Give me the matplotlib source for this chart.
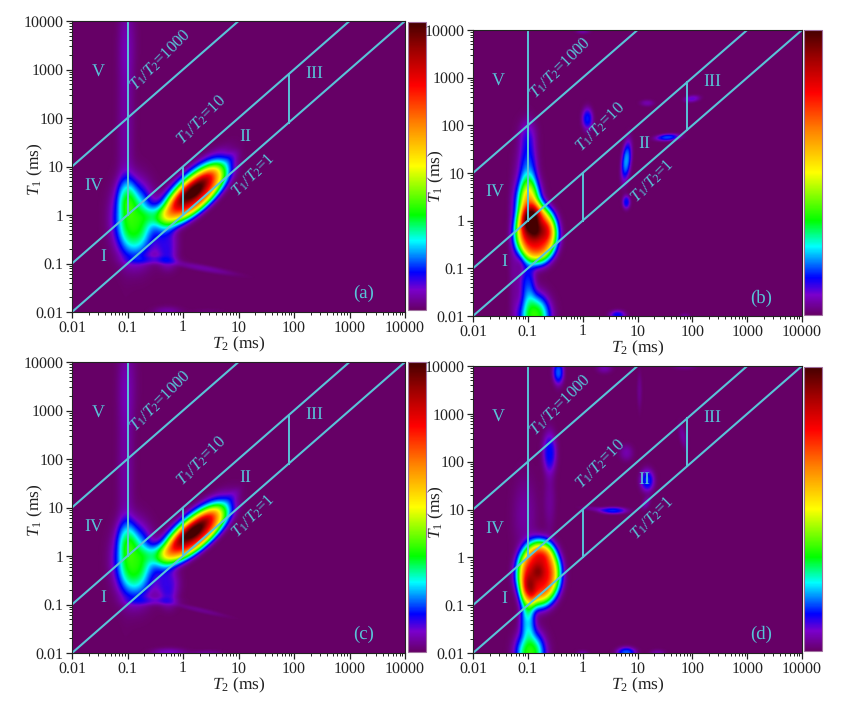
import numpy as np
import matplotlib
matplotlib.use('Agg')
import matplotlib.pyplot as plt
from matplotlib.colors import LinearSegmentedColormap, Normalize
from matplotlib.cm import ScalarMappable
from matplotlib.ticker import FixedLocator, FixedFormatter, LogLocator, NullFormatter

plt.rcParams['font.family'] = ['Liberation Serif', 'DejaVu Serif']
plt.rcParams['mathtext.fontset'] = 'custom'
plt.rcParams['mathtext.rm'] = 'Liberation Serif'
plt.rcParams['mathtext.it'] = 'Liberation Serif:italic'
plt.rcParams['text.hinting'] = 'no_hinting'

tick_values = [0.01, 0.1, 1, 10, 100, 1000, 10000]
tick_labels = ['0.01', '0.1', '1', '10', '100', '1000', '10000']

# Each peak: log10 T2, log10 T1, amplitude, long sigma, short sigma, long-axis angle (deg), sharpness
peaks_a = [
    (0.22, 0.42, 0.76, 0.54, 0.20, 47, 1.7),
    (0.12, 0.62, 0.28, 0.56, 0.17, 47, 1.5),
    (0.24, 0.46, 0.10, 0.16, 0.07, 47, 1.0),
    (-0.88, -0.12, 0.35, 0.52, 0.24, 92, 1.25),
    (-1.02, 0.45, 0.09, 0.26, 0.12, 90, 1.25),
    (-1.03, 1.9, 0.04, 1.6, 0.11, 90, 1.25),
    (-1.0, 3.6, 0.03, 0.6, 0.12, 90, 1.25),
    (-0.45, 0.0, 0.10, 0.18, 0.14, 0, 1.25),
    (-0.30, -0.55, 0.10, 0.30, 0.14, 90, 1.25),
    (-0.55, -0.92, 0.05, 0.30, 0.06, 0, 1.25),
    (-0.25, -0.92, 0.035, 0.16, 0.12, 90, 1.25),
    (0.35, -1.08, 0.045, 0.42, 0.05, -12, 1.25),
    (-0.28, -2.0, 0.05, 0.18, 0.09, 0, 1.25),
    (0.45, -2.03, 0.02, 0.22, 0.07, 0, 1.25),
    (0.88, 1.2, 0.03, 0.14, 0.07, 50, 1.25),
]
peaks_b = [
    (-0.84, -0.27, 0.78, 0.42, 0.26, 90, 2.0),
    (-0.98, 0.32, 0.50, 0.38, 0.15, 90, 1.25),
    (-0.84, -0.23, 0.12, 0.13, 0.08, 90, 1.0),
    (-0.65, -0.2, 0.08, 0.14, 0.09, 90, 1.25),
    (-1.00, 1.05, 0.16, 0.55, 0.12, 90, 1.25),
    (-1.0, 1.85, 0.04, 0.22, 0.12, 90, 1.25),
    (-0.87, -2.0, 0.36, 0.32, 0.19, 90, 1.25),
    (-1.0, -1.3, 0.14, 0.30, 0.10, 90, 1.25),
    (-1.25, -0.6, 0.035, 1.2, 0.07, 90, 1.25),
    (0.09, 2.15, 0.14, 0.16, 0.07, 90, 1.25),
    (1.18, 2.48, 0.05, 0.09, 0.05, 0, 1.25),
    (2.0, 2.57, 0.08, 0.10, 0.05, 10, 1.25),
    (1.55, 1.76, 0.16, 0.15, 0.05, 5, 1.25),
    (0.80, 1.27, 0.20, 0.28, 0.06, 85, 1.25),
    (0.80, 0.40, 0.13, 0.10, 0.05, 90, 1.25),
    (0.64, -1.97, 0.13, 0.10, 0.07, 0, 1.25),
    (1.87, -2.0, 0.04, 0.07, 0.05, 0, 1.25),
    (0.01, 4.0, 0.05, 0.09, 0.05, 0, 1.25),
]
peaks_c = [
    (0.22, 0.44, 0.76, 0.54, 0.19, 45, 1.7),
    (0.12, 0.62, 0.28, 0.56, 0.16, 45, 1.5),
    (0.24, 0.48, 0.10, 0.16, 0.07, 45, 1.0),
    (-0.88, -0.12, 0.35, 0.50, 0.23, 92, 1.25),
    (-1.02, 0.42, 0.08, 0.26, 0.12, 90, 1.25),
    (-1.03, 1.9, 0.04, 1.6, 0.11, 90, 1.25),
    (-1.0, 3.6, 0.03, 0.6, 0.13, 90, 1.25),
    (-0.45, 0.05, 0.10, 0.18, 0.14, 0, 1.25),
    (-0.28, -0.55, 0.10, 0.26, 0.15, 90, 1.25),
    (-0.55, -0.92, 0.05, 0.30, 0.06, 0, 1.25),
    (-0.25, -0.90, 0.03, 0.16, 0.11, 90, 1.25),
    (0.30, -1.10, 0.03, 0.35, 0.04, -15, 1.25),
    (-0.25, -2.0, 0.07, 0.22, 0.08, 0, 1.25),
    (0.45, -2.0, 0.04, 0.20, 0.05, 0, 1.25),
    (0.90, 1.25, 0.03, 0.15, 0.07, 50, 1.25),
]
peaks_d = [
    (-0.80, -0.33, 0.79, 0.46, 0.27, 90, 2.0),
    (-0.81, -0.29, 0.13, 0.13, 0.08, 90, 1.0),
    (-1.0, -0.80, 0.26, 0.30, 0.10, 90, 1.25),
    (-0.72, 0.15, 0.09, 0.16, 0.14, 90, 1.25),
    (-1.05, 0.9, 0.04, 0.55, 0.16, 90, 1.25),
    (-0.95, -2.0, 0.36, 0.32, 0.18, 90, 1.25),
    (-1.0, -1.35, 0.16, 0.22, 0.10, 90, 1.25),
    (-0.44, 3.88, 0.17, 0.18, 0.07, 90, 1.25),
    (-0.60, 2.2, 0.13, 0.30, 0.09, 90, 1.25),
    (-0.6, 1.2, 0.035, 0.45, 0.08, 90, 1.25),
    (0.40, 3.97, 0.05, 0.10, 0.08, 0, 1.25),
    (1.86, 4.0, 0.03, 0.15, 0.05, 0, 1.25),
    (1.04, 3.5, 0.03, 0.28, 0.035, 90, 1.25),
    (0.80, 2.2, 0.05, 0.12, 0.09, 90, 1.25),
    (1.18, 1.62, 0.15, 0.16, 0.09, 90, 1.25),
    (0.56, 0.99, 0.14, 0.17, 0.05, 0, 1.25),
    (0.20, 1.03, 0.035, 0.16, 0.035, -5, 1.25),
    (1.16, 1.15, 0.05, 0.10, 0.05, 70, 1.25),
    (1.83, 2.55, 0.04, 0.18, 0.05, 100, 1.25),
    (0.80, -1.98, 0.17, 0.12, 0.08, 0, 1.25),
    (0.0, -2.0, 0.05, 0.08, 0.05, 0, 1.25),
    (1.37, -2.0, 0.05, 0.10, 0.06, 0, 1.25),
]

ratio_1000 = 1000
ratio_10 = 10
ratio_1 = 1
panel_names = ['(a)', '(b)', '(c)', '(d)']
zone_names = ['V', 'IV', 'I', 'II', 'III']

cmap_pos = [0.0, 0.07, 0.13, 0.24, 0.33, 0.50, 0.65, 0.78, 0.90, 1.0]
cmap_col = ['#660066', '#7a00cc', '#0000ff', '#00ffff', '#00ff00', '#ffff00',
            '#ff8000', '#ff0000', '#a00000', '#450000']
rainbow = LinearSegmentedColormap.from_list('nmr', list(zip(cmap_pos, cmap_col)), N=512)

CY = '#58c4d8'
W, H = 849, 705
boxes = [
    ((72, 405, 21, 312), (408, 426, 22, 310)),
    ((473, 802, 30, 316), (804, 822, 30, 315)),
    ((72, 405, 362, 653), (408, 426, 362, 652)),
    ((473, 802, 366, 653), (804, 822, 367, 651)),
]


def px_axes(fig, b):
    l, r, t, bt = b
    return fig.add_axes([l / W, 1 - bt / H, (r - l) / W, (bt - t) / H])


def field(peaks, lx, ly):
    X, Y = np.meshgrid(lx, ly)
    Z = np.zeros_like(X)
    for cx, cy, amp, s_long, s_short, ang, power in peaks:
        a = np.deg2rad(ang)
        u = (X - cx) * np.cos(a) + (Y - cy) * np.sin(a)
        v = -(X - cx) * np.sin(a) + (Y - cy) * np.cos(a)
        Z += amp * np.exp(-(0.5 * ((u / s_long) ** 2 + (v / s_short) ** 2)) ** power)
    return Z


fig = plt.figure(figsize=(W / 100, H / 100), dpi=100)
lx = np.linspace(-2, 4, 600)
ly = np.linspace(-2, 4, 600)

for peaks, name, (box, cbox) in zip([peaks_a, peaks_b, peaks_c, peaks_d], panel_names, boxes):
    ax = px_axes(fig, box)
    Z = field(peaks, lx, ly)
    ax.pcolormesh(10 ** lx, 10 ** ly, Z, cmap=rainbow, vmin=0, vmax=1, shading='gouraud', rasterized=True)
    ax.set_xscale('log')
    ax.set_yscale('log')
    ax.set_xlim(0.01, 10000)
    ax.set_ylim(0.01, 10000)

    for ratio in (ratio_1000, ratio_10, ratio_1):
        xs = np.array([0.01, 10000 / ratio])
        ax.plot(xs, xs * ratio, color=CY, lw=1.5, solid_capstyle='butt')
    ax.plot([0.1, 0.1], [1, 10000], color=CY, lw=1.4)
    ax.plot([1, 1], [1, 10], color=CY, lw=1.4)
    ax.plot([80, 80], [80, 800], color=CY, lw=1.4)

    kw = dict(color=CY, ha='center', va='center', rotation=45, rotation_mode='anchor', fontsize=12)
    ax.text(10 ** -0.41, 10 ** 3.2, r'$\mathit{T}_1/\mathit{T}_2$=1000', **kw)
    ax.text(10 ** 0.32, 10 ** 1.97, r'$\mathit{T}_1/\mathit{T}_2$=10', **kw)
    ax.text(10 ** 1.26, 10 ** 0.83, r'$\mathit{T}_1/\mathit{T}_2$=1', **kw)
    zone_xy = [(-1.53, 2.93), (-1.6, 0.59), (-1.43, -0.86), (1.13, 1.62), (2.37, 2.92)]
    for z, (zx, zy) in zip(zone_names, zone_xy):
        ax.text(10 ** zx, 10 ** zy, z, color=CY, ha='center', va='center', fontsize=13)
    ax.text(10 ** 3.26, 10 ** -1.62, name, color=CY, ha='center', va='center', fontsize=13.5)

    ax.xaxis.set_major_locator(FixedLocator(tick_values))
    ax.xaxis.set_major_formatter(FixedFormatter(tick_labels))
    ax.yaxis.set_major_locator(FixedLocator(tick_values))
    ax.yaxis.set_major_formatter(FixedFormatter(tick_labels))
    for axis in (ax.xaxis, ax.yaxis):
        axis.set_minor_locator(LogLocator(base=10, subs=np.arange(2, 10), numticks=12))
        axis.set_minor_formatter(NullFormatter())
    ax.tick_params(which='major', length=4, width=0.9, labelsize=11.5, colors='#222222', pad=2)
    ax.tick_params(which='minor', length=2, width=0.7, colors='#222222')
    for s in ax.spines.values():
        s.set_linewidth(0.8)
        s.set_color('#222222')
    ax.set_xlabel(r'$\mathit{T}_2$ (ms)', fontsize=12.5, labelpad=0, color='#222222')
    ax.set_ylabel(r'$\mathit{T}_1$ (ms)', fontsize=12.5, color='#222222')
    ax.yaxis.set_label_coords(-0.082, 0.49)

    cax = px_axes(fig, cbox)
    cb = fig.colorbar(ScalarMappable(norm=Normalize(0, 1), cmap=rainbow), cax=cax)
    cb.set_ticks([])
    cb.outline.set_edgecolor('#a070a0')
    cb.outline.set_linewidth(0.8)

fig.savefig('out.png', dpi=100)
